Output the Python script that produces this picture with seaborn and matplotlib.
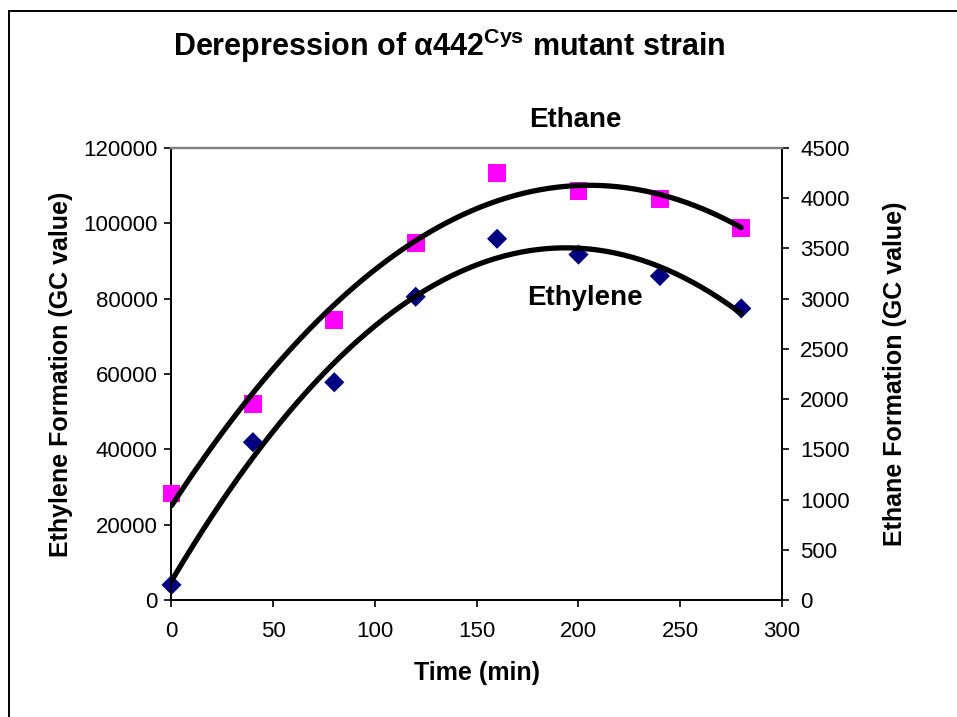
import numpy as np
import pandas as pd
import seaborn as sns
import matplotlib
matplotlib.use("Agg")
import matplotlib.pyplot as plt
from matplotlib.patches import Rectangle

# Sampling times (min) and GC readings
time_min = [0, 40, 80, 120, 160, 200, 240, 280]
ethylene = [4000, 41900, 57800, 80500, 95900, 91700, 86000, 77400]
ethane = [1060, 1950, 2785, 3555, 4250, 4070, 3990, 3700]

x_ticks = [0, 50, 100, 150, 200, 250, 300]
ethylene_ticks = [0, 20000, 40000, 60000, 80000, 100000, 120000]
ethane_ticks = [0, 500, 1000, 1500, 2000, 2500, 3000, 3500, 4000, 4500]

sns.set_theme(style="white")
plt.rcParams["font.family"] = ["Liberation Sans", "DejaVu Sans"]
plt.rcParams["text.color"] = "black"
plt.rcParams["axes.labelcolor"] = "black"
plt.rcParams["mathtext.fontset"] = "custom"
plt.rcParams["mathtext.rm"] = "Liberation Sans"
plt.rcParams["mathtext.bf"] = "Liberation Sans:bold"
plt.rcParams["mathtext.it"] = "Liberation Sans:italic"

df = pd.DataFrame({"time": time_min, "ethylene": ethylene, "ethane": ethane})

# Second-order polynomial trendlines
xs = np.linspace(min(time_min), max(time_min), 200)
fit_ethylene = np.polyval(np.polyfit(time_min, ethylene, 2), xs)
fit_ethane = np.polyval(np.polyfit(time_min, ethane, 2), xs)
fits = pd.DataFrame({"time": xs, "ethylene": fit_ethylene, "ethane": fit_ethane})

fig = plt.figure(figsize=(9.57, 7.17), dpi=100)
ax = fig.add_axes([0.1792, 0.1632, 0.6379, 0.6304])
ax2 = ax.twinx()

# Ethylene on the left axis
sns.scatterplot(data=df, x="time", y="ethylene", ax=ax, marker="D", s=105,
                color="#000080", edgecolor="none", zorder=3, clip_on=False)
sns.lineplot(data=fits, x="time", y="ethylene", ax=ax, color="black",
             linewidth=3.8, zorder=4)

# Ethane on the right axis
sns.scatterplot(data=df, x="time", y="ethane", ax=ax2, marker="s", s=165,
                color="#FF00FF", edgecolor="none", zorder=3, clip_on=False)
sns.lineplot(data=fits, x="time", y="ethane", ax=ax2, color="black",
             linewidth=3.8, zorder=4)

ax.set_xlim(0, 300)
ax.set_ylim(0, 120000)
ax2.set_ylim(0, 4500)
ax.set_xticks(x_ticks)
ax.set_yticks(ethylene_ticks)
ax2.set_yticks(ethane_ticks)
ax.set_xticklabels([str(v) for v in x_ticks])
ax.set_yticklabels([str(v) for v in ethylene_ticks])
ax2.set_yticklabels([str(v) for v in ethane_ticks])

for a in (ax, ax2):
    a.grid(False)
    a.tick_params(axis="both", direction="out", length=5, width=1.2,
                  colors="black", labelsize=16)
    for side in ("left", "right", "bottom"):
        a.spines[side].set_color("black")
        a.spines[side].set_linewidth(1.3)
    a.spines["top"].set_color("#808080")
    a.spines["top"].set_linewidth(1.6)
ax.tick_params(axis="y", left=True, right=False, pad=5)
ax.tick_params(axis="x", bottom=True, pad=10)
ax2.tick_params(axis="y", right=True, left=False, pad=8)

ax.set_xlabel("Time (min)", fontsize=18, fontweight="bold")
ax.set_ylabel("Ethylene Formation (GC value)", fontsize=18, fontweight="bold")
ax2.set_ylabel("Ethane Formation (GC value)", fontsize=18, fontweight="bold")
ax.xaxis.set_label_coords(0.5, -0.136)
ax.yaxis.set_label_coords(-0.161, 0.5)
ax2.yaxis.set_label_coords(1.165, 0.5)

ax.text(198.3, 127400, "Ethane", fontsize=20, fontweight="bold",
        ha="center", va="center", clip_on=False)
ax.text(203, 80200, "Ethylene", fontsize=20, fontweight="bold",
        ha="center", va="center")

fig.text(0.469, 0.936, r"Derepression of α442$^{\mathbf{Cys}}$ mutant strain",
         fontsize=22, fontweight="bold", ha="center", va="center")

# Chart frame
fig.add_artist(Rectangle((8.5 / 957, -0.2), 1.5, 1.2 - 11.5 / 717,
                         transform=fig.transFigure, fill=False,
                         edgecolor="black", linewidth=1.4, clip_on=False))

fig.savefig("out.png", dpi=100, facecolor="white")
